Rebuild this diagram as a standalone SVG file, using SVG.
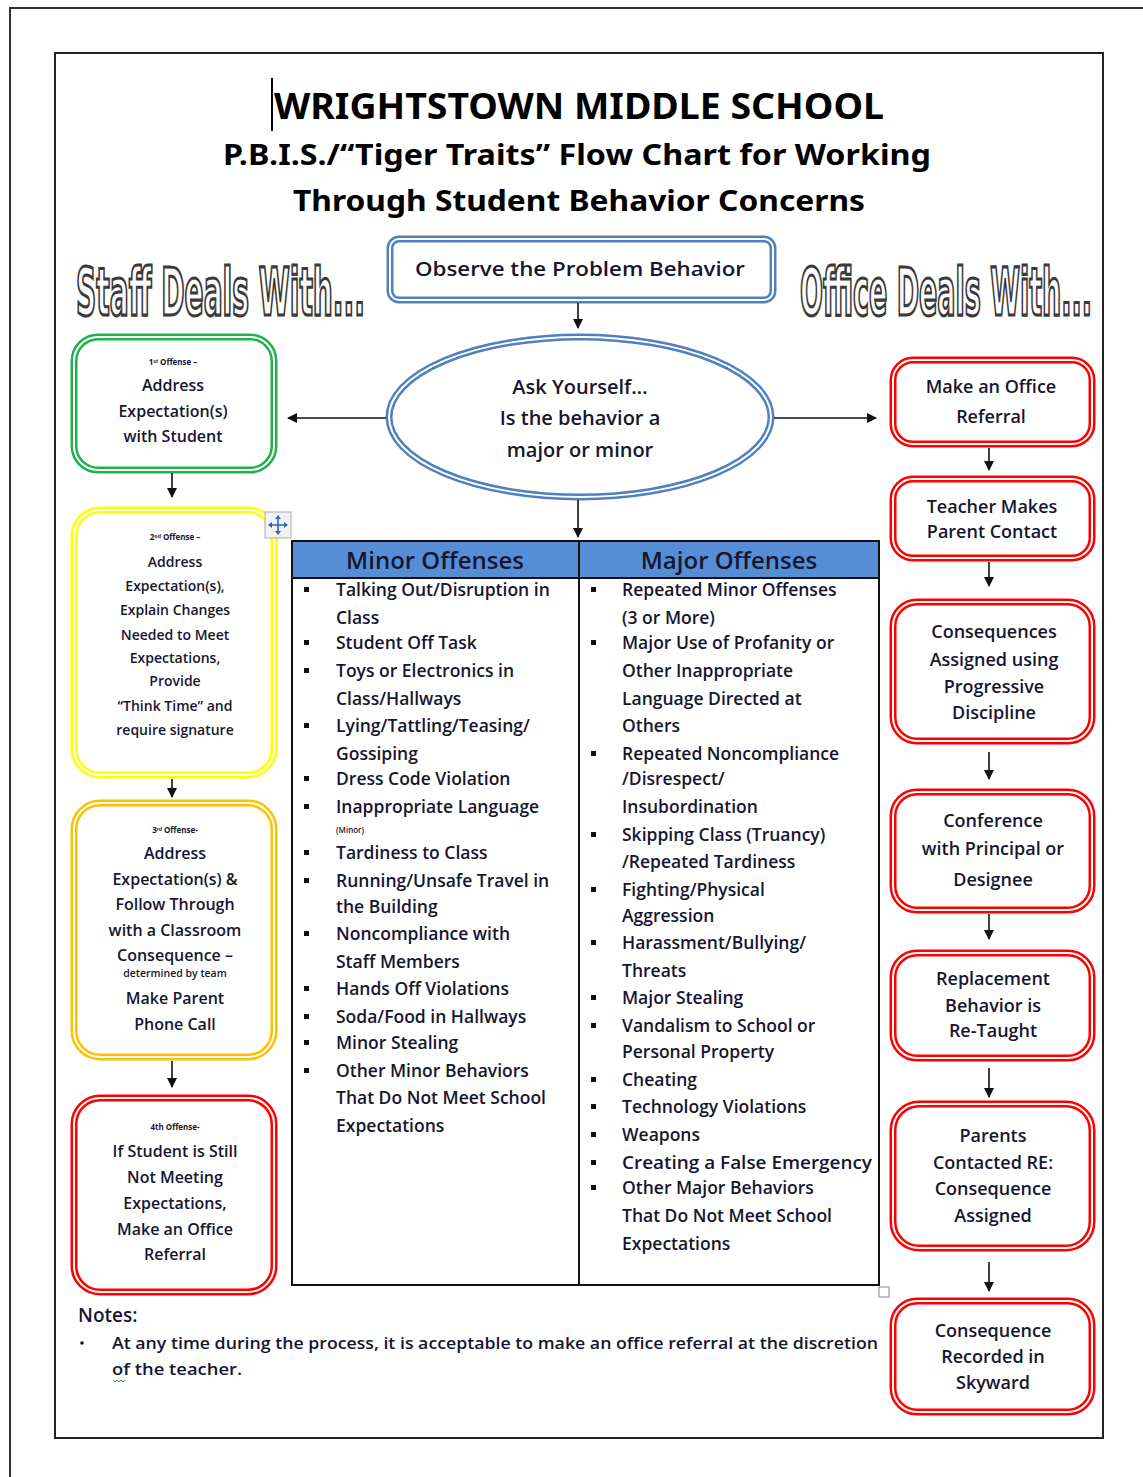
<svg xmlns="http://www.w3.org/2000/svg" width="1143" height="1477" viewBox="0 0 1143 1477">
<defs>
<marker id="ah" markerWidth="10" markerHeight="10" refX="9" refY="5" orient="auto" markerUnits="userSpaceOnUse">
<path d="M0,0 L10,5 L0,10 Z" fill="#111"/>
</marker>
<style>
.t{font-family:"Open Sans","Liberation Sans",sans-serif;fill:#161630;font-weight:600;}
.c{text-anchor:middle;}
.ttl{font-family:"Noto Sans","Open Sans","Liberation Sans",sans-serif;font-weight:bold;fill:#000;text-anchor:middle;}
.out{font-family:"DejaVu Sans Condensed","Liberation Sans Narrow","Liberation Sans",sans-serif;font-weight:bold;fill:#fff;stroke:#3a3a3a;stroke-width:3.2;}
.box16{font-size:16px;}
.box18{font-size:18px;}
.tiny{font-size:8px;font-weight:bold;}
.li{font-size:17.5px;}
.conn{stroke:#111;stroke-width:1.6;fill:none;marker-end:url(#ah);}
.inner{fill:none;stroke:#fff;stroke-width:2;}
</style>
</defs>
<rect x="0" y="0" width="1143" height="1477" fill="#fff"/>
<path d="M10,1477 L10,8 L1143,8" fill="none" stroke="#333" stroke-width="2"/>
<rect x="55" y="53" width="1048" height="1385" fill="#fff" stroke="#222" stroke-width="2"/>

<g id="title">
<line x1="272" y1="78" x2="272" y2="131" stroke="#000" stroke-width="2"/>
<text class="ttl" x="579" y="119" font-size="36" textLength="610" lengthAdjust="spacingAndGlyphs">WRIGHTSTOWN MIDDLE SCHOOL</text>
<text class="ttl" x="577" y="165" font-size="29" textLength="708" lengthAdjust="spacingAndGlyphs">P.B.I.S./“Tiger Traits” Flow Chart for Working</text>
<text class="ttl" x="579" y="211" font-size="29" textLength="572" lengthAdjust="spacingAndGlyphs">Through Student Behavior Concerns</text>
</g>

<g id="staff-label"><text class="out" transform="translate(76,315) scale(0.45,1)" x="0" y="0" font-size="66" textLength="642" lengthAdjust="spacingAndGlyphs">Staff Deals With...</text></g>
<g id="office-label"><text class="out" transform="translate(800,315) scale(0.45,1)" x="0" y="0" font-size="66" textLength="649" lengthAdjust="spacingAndGlyphs">Office Deals With...</text></g>

<g id="observe">
<rect x="390" y="239" width="383" height="61" rx="9" fill="#fff" stroke="#4f81bd" stroke-width="7"/>
<rect x="390" y="239" width="383" height="61" rx="9" class="inner"/>
<text class="t c" x="580" y="276" font-size="19" textLength="330" lengthAdjust="spacingAndGlyphs">Observe the Problem Behavior</text>
</g>

<g id="ask">
<ellipse cx="580" cy="417" rx="191" ry="80" fill="#fff" stroke="#4f81bd" stroke-width="7"/>
<ellipse cx="580" cy="417" rx="191" ry="80" class="inner"/>
<text class="t c" x="580" y="394" font-size="20">Ask Yourself…</text>
<text class="t c" x="580" y="425" font-size="20">Is the behavior a</text>
<text class="t c" x="580" y="457" font-size="20">major or minor</text>
</g>

<g id="offense1">
<rect x="74" y="337" width="200" height="133" rx="24" fill="#fff" stroke="#1fb14e" stroke-width="7"/>
<rect x="74" y="337" width="200" height="133" rx="24" class="inner"/>
<text class="t c tiny" x="173" y="365">1ˢᵗ Offense –</text>
<text class="t c box16" x="173" y="391">Address</text>
<text class="t c box16" x="173" y="417">Expectation(s)</text>
<text class="t c box16" x="173" y="442">with Student</text>
</g>

<g id="offense2">
<rect x="74" y="510" width="200" height="265" rx="26" fill="#fff" stroke="#ffff00" stroke-width="7"/>
<rect x="74" y="510" width="200" height="265" rx="26" class="inner"/>
<text class="t c tiny" x="175" y="540">2ⁿᵈ Offense –</text>
<text class="t c" font-size="14" x="175" y="567">Address</text>
<text class="t c" font-size="14" x="175" y="591">Expectation(s),</text>
<text class="t c" font-size="14" x="175" y="615">Explain Changes</text>
<text class="t c" font-size="14" x="175" y="640">Needed to Meet</text>
<text class="t c" font-size="14" x="175" y="663">Expectations,</text>
<text class="t c" font-size="14" x="175" y="686">Provide</text>
<text class="t c" font-size="14" x="175" y="711">“Think Time” and</text>
<text class="t c" font-size="14" x="175" y="735">require signature</text>
</g>

<g id="move-handle">
<rect x="265" y="512" width="26" height="26" fill="#f2f2f2" stroke="#aaa" stroke-width="1"/>
<path d="M278,517 L278,533 M270,525 L286,525" stroke="#2e64b8" stroke-width="1.6"/>
<path d="M275,519 L278,515 L281,519 Z M275,531 L278,535 L281,531 Z M272,522 L268,525 L272,528 Z M284,522 L288,525 L284,528 Z" fill="#2e64b8"/>
</g>

<g id="offense3">
<rect x="74" y="803" width="200" height="254" rx="26" fill="#fff" stroke="#ffc000" stroke-width="7"/>
<rect x="74" y="803" width="200" height="254" rx="26" class="inner"/>
<text class="t c tiny" x="175" y="833">3ʳᵈ Offense-</text>
<text class="t c box16" x="175" y="859">Address</text>
<text class="t c box16" x="175" y="885">Expectation(s) &amp;</text>
<text class="t c box16" x="175" y="910">Follow Through</text>
<text class="t c box16" x="175" y="936">with a Classroom</text>
<text class="t c box16" x="175" y="961">Consequence –</text>
<text class="t c" font-size="10.5" x="175" y="977">determined by team</text>
<text class="t c box16" x="175" y="1004">Make Parent</text>
<text class="t c box16" x="175" y="1030">Phone Call</text>
</g>

<g id="offense4">
<rect x="74" y="1098" width="200" height="194" rx="26" fill="#fff" stroke="#ff0000" stroke-width="7"/>
<rect x="74" y="1098" width="200" height="194" rx="26" class="inner"/>
<text class="t c tiny" x="175" y="1130">4th Offense-</text>
<text class="t c box16" x="175" y="1157">If Student is Still</text>
<text class="t c box16" x="175" y="1183">Not Meeting</text>
<text class="t c box16" x="175" y="1209">Expectations,</text>
<text class="t c box16" x="175" y="1235">Make an Office</text>
<text class="t c box16" x="175" y="1260">Referral</text>
</g>

<g id="offense-table">
<rect x="292" y="541" width="587" height="37" fill="#558ed5"/>
<rect x="292" y="541" width="587" height="744" fill="none" stroke="#111" stroke-width="2"/>
<line x1="292" y1="578" x2="879" y2="578" stroke="#111" stroke-width="2"/>
<line x1="579" y1="541" x2="579" y2="1285" stroke="#111" stroke-width="2"/>
<text class="t c" x="435" y="569" font-size="24" font-weight="normal">Minor Offenses</text>
<text class="t c" x="729" y="569" font-size="24" font-weight="normal">Major Offenses</text>
<g fill="#111">
<rect x="304" y="587" width="5" height="5"/><rect x="304" y="640" width="5" height="5"/><rect x="304" y="668" width="5" height="5"/><rect x="304" y="723" width="5" height="5"/><rect x="304" y="776" width="5" height="5"/><rect x="304" y="804" width="5" height="5"/><rect x="304" y="850" width="5" height="5"/><rect x="304" y="878" width="5" height="5"/><rect x="304" y="931" width="5" height="5"/><rect x="304" y="986" width="5" height="5"/><rect x="304" y="1014" width="5" height="5"/><rect x="304" y="1040" width="5" height="5"/><rect x="304" y="1068" width="5" height="5"/>
<rect x="591" y="587" width="5" height="5"/><rect x="591" y="640" width="5" height="5"/><rect x="591" y="751" width="5" height="5"/><rect x="591" y="832" width="5" height="5"/><rect x="591" y="887" width="5" height="5"/><rect x="591" y="940" width="5" height="5"/><rect x="591" y="995" width="5" height="5"/><rect x="591" y="1023" width="5" height="5"/><rect x="591" y="1077" width="5" height="5"/><rect x="591" y="1104" width="5" height="5"/><rect x="591" y="1132" width="5" height="5"/><rect x="591" y="1160" width="5" height="5"/><rect x="591" y="1185" width="5" height="5"/>
</g>
<g class="t li">
<text x="336" y="596">Talking Out/Disruption in</text>
<text x="336" y="624">Class</text>
<text x="336" y="649">Student Off Task</text>
<text x="336" y="677">Toys or Electronics in</text>
<text x="336" y="705">Class/Hallways</text>
<text x="336" y="732">Lying/Tattling/Teasing/</text>
<text x="336" y="760">Gossiping</text>
<text x="336" y="785">Dress Code Violation</text>
<text x="336" y="813">Inappropriate Language</text>
<text x="336" y="833" font-size="8">(Minor)</text>
<text x="336" y="859">Tardiness to Class</text>
<text x="336" y="887">Running/Unsafe Travel in</text>
<text x="336" y="913">the Building</text>
<text x="336" y="940">Noncompliance with</text>
<text x="336" y="968">Staff Members</text>
<text x="336" y="995">Hands Off Violations</text>
<text x="336" y="1023">Soda/Food in Hallways</text>
<text x="336" y="1049">Minor Stealing</text>
<text x="336" y="1077">Other Minor Behaviors</text>
<text x="336" y="1104">That Do Not Meet School</text>
<text x="336" y="1132">Expectations</text>
</g>
<g class="t li">
<text x="622" y="596">Repeated Minor Offenses</text>
<text x="622" y="624">(3 or More)</text>
<text x="622" y="649">Major Use of Profanity or</text>
<text x="622" y="677">Other Inappropriate</text>
<text x="622" y="705">Language Directed at</text>
<text x="622" y="732">Others</text>
<text x="622" y="760">Repeated Noncompliance</text>
<text x="622" y="785">/Disrespect/</text>
<text x="622" y="813">Insubordination</text>
<text x="622" y="841">Skipping Class (Truancy)</text>
<text x="622" y="868">/Repeated Tardiness</text>
<text x="622" y="896">Fighting/Physical</text>
<text x="622" y="922">Aggression</text>
<text x="622" y="949">Harassment/Bullying/</text>
<text x="622" y="977">Threats</text>
<text x="622" y="1004">Major Stealing</text>
<text x="622" y="1032">Vandalism to School or</text>
<text x="622" y="1058">Personal Property</text>
<text x="622" y="1086">Cheating</text>
<text x="622" y="1113">Technology Violations</text>
<text x="622" y="1141">Weapons</text>
<text x="622" y="1169" textLength="250" lengthAdjust="spacingAndGlyphs">Creating a False Emergency</text>
<text x="622" y="1194">Other Major Behaviors</text>
<text x="622" y="1222">That Do Not Meet School</text>
<text x="622" y="1250">Expectations</text>
</g>
<rect x="879" y="1287" width="10" height="10" fill="#fff" stroke="#888" stroke-width="1"/>
</g>

<g id="office-referral">
<rect x="893" y="360" width="199" height="84" rx="20" fill="#fff" stroke="#ff0000" stroke-width="7"/>
<rect x="893" y="360" width="199" height="84" rx="20" class="inner"/>
<text class="t c box18" x="991" y="393">Make an Office</text>
<text class="t c box18" x="991" y="423">Referral</text>
</g>
<g id="parent-contact">
<rect x="893" y="479" width="199" height="79" rx="20" fill="#fff" stroke="#ff0000" stroke-width="7"/>
<rect x="893" y="479" width="199" height="79" rx="20" class="inner"/>
<text class="t c box18" x="992" y="513">Teacher Makes</text>
<text class="t c box18" x="992" y="538">Parent Contact</text>
</g>
<g id="consequences">
<rect x="893" y="602" width="199" height="139" rx="24" fill="#fff" stroke="#ff0000" stroke-width="7"/>
<rect x="893" y="602" width="199" height="139" rx="24" class="inner"/>
<text class="t c box18" x="994" y="638">Consequences</text>
<text class="t c box18" x="994" y="666">Assigned using</text>
<text class="t c box18" x="994" y="693">Progressive</text>
<text class="t c box18" x="994" y="719">Discipline</text>
</g>
<g id="conference">
<rect x="893" y="792" width="199" height="118" rx="24" fill="#fff" stroke="#ff0000" stroke-width="7"/>
<rect x="893" y="792" width="199" height="118" rx="24" class="inner"/>
<text class="t c box18" x="993" y="827">Conference</text>
<text class="t c box18" x="993" y="855">with Principal or</text>
<text class="t c box18" x="993" y="886">Designee</text>
</g>
<g id="replacement">
<rect x="893" y="953" width="199" height="105" rx="24" fill="#fff" stroke="#ff0000" stroke-width="7"/>
<rect x="893" y="953" width="199" height="105" rx="24" class="inner"/>
<text class="t c box18" x="993" y="985">Replacement</text>
<text class="t c box18" x="993" y="1012">Behavior is</text>
<text class="t c box18" x="993" y="1037">Re-Taught</text>
</g>
<g id="parents-contacted">
<rect x="893" y="1104" width="199" height="144" rx="26" fill="#fff" stroke="#ff0000" stroke-width="7"/>
<rect x="893" y="1104" width="199" height="144" rx="26" class="inner"/>
<text class="t c box18" x="993" y="1142">Parents</text>
<text class="t c box18" x="993" y="1169">Contacted RE:</text>
<text class="t c box18" x="993" y="1195">Consequence</text>
<text class="t c box18" x="993" y="1222">Assigned</text>
</g>
<g id="skyward">
<rect x="893" y="1301" width="199" height="111" rx="24" fill="#fff" stroke="#ff0000" stroke-width="7"/>
<rect x="893" y="1301" width="199" height="111" rx="24" class="inner"/>
<text class="t c box18" x="993" y="1337">Consequence</text>
<text class="t c box18" x="993" y="1363">Recorded in</text>
<text class="t c box18" x="993" y="1389">Skyward</text>
</g>

<g id="connectors">
<line class="conn" x1="578" y1="303" x2="578" y2="328"/>
<line class="conn" x1="386" y1="418" x2="288" y2="418"/>
<line class="conn" x1="774" y1="418" x2="876" y2="418"/>
<line class="conn" x1="578" y1="500" x2="578" y2="537"/>
<line class="conn" x1="172" y1="473" x2="172" y2="497"/>
<line class="conn" x1="172" y1="779" x2="172" y2="797"/>
<line class="conn" x1="172" y1="1061" x2="172" y2="1087"/>
<line class="conn" x1="989" y1="448" x2="989" y2="470"/>
<line class="conn" x1="989" y1="562" x2="989" y2="586"/>
<line class="conn" x1="989" y1="752" x2="989" y2="779"/>
<line class="conn" x1="989" y1="914" x2="989" y2="939"/>
<line class="conn" x1="989" y1="1068" x2="989" y2="1097"/>
<line class="conn" x1="989" y1="1262" x2="989" y2="1291"/>
</g>

<g id="notes">
<text class="t" x="78" y="1322" font-size="19">Notes:</text>
<circle cx="82" cy="1343" r="1.8" fill="#111"/>
<text class="t" x="112" y="1349" font-size="16" textLength="766" lengthAdjust="spacingAndGlyphs">At any time during the process, it is acceptable to make an office referral at the discretion</text>
<text class="t" x="112" y="1375" font-size="16" textLength="130" lengthAdjust="spacingAndGlyphs">of the teacher.</text>
<path d="M113,1380 l2,2 l2,-2 l2,2 l2,-2 l2,2 l2,-2" fill="none" stroke="#2a9d2a" stroke-width="1"/>
</g>
</svg>
